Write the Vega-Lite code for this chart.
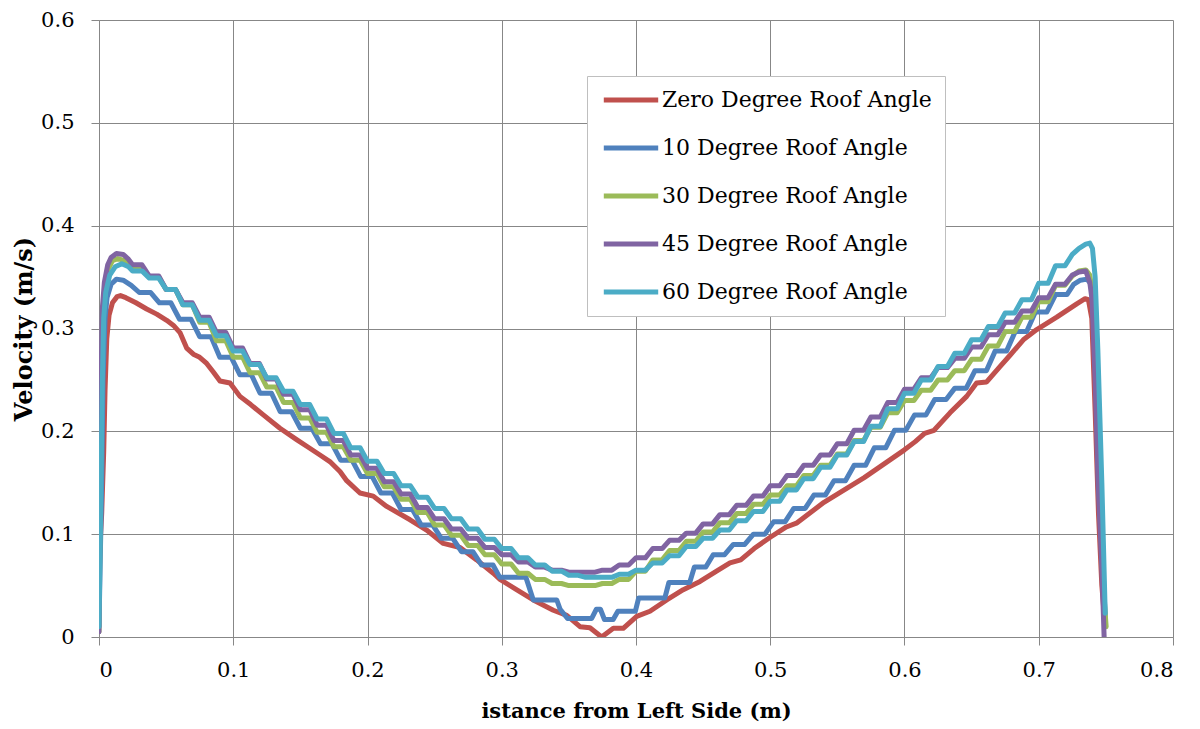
{
  "$schema": "https://vega.github.io/schema/vega-lite/v6.json",
  "autosize": {"type": "none"},
  "width": 1074,
  "height": 617,
  "padding": {"left": 99, "top": 20, "right": 27, "bottom": 92},
  "background": "white",
  "config": {
    "view": {"stroke": null},
    "axis": {
      "domainColor": "#878787", "gridColor": "#878787", "tickColor": "#878787",
      "gridWidth": 1, "domainWidth": 1, "tickWidth": 1, "tickSize": 8,
      "labelFont": "DejaVu Serif", "labelFontSize": 21, "labelColor": "black",
      "titleFont": "DejaVu Serif", "titleFontWeight": "bold", "titleColor": "black"
    },
    "legend": {
      "labelFont": "DejaVu Serif", "labelFontSize": 22, "labelColor": "black", "labelLimit": 500
    }
  },
  "data": {"values": [
    {"angle":"Zero","x":0,"y":0.07},{"angle":"Zero","x":0.002,"y":0.12},{"angle":"Zero","x":0.0035,"y":0.18},{"angle":"Zero","x":0.0045,"y":0.24},{"angle":"Zero","x":0.0058,"y":0.29},{"angle":"Zero","x":0.0075,"y":0.313},{"angle":"Zero","x":0.01,"y":0.325},{"angle":"Zero","x":0.0135,"y":0.331},{"angle":"Zero","x":0.016,"y":0.332},{"angle":"Zero","x":0.02,"y":0.33},{"angle":"Zero","x":0.0275,"y":0.325},{"angle":"Zero","x":0.0355,"y":0.319},{"angle":"Zero","x":0.043,"y":0.314},{"angle":"Zero","x":0.0504,"y":0.308},{"angle":"Zero","x":0.0555,"y":0.303},{"angle":"Zero","x":0.0603,"y":0.296},{"angle":"Zero","x":0.0653,"y":0.281},{"angle":"Zero","x":0.0703,"y":0.275},{"angle":"Zero","x":0.075,"y":0.272},{"angle":"Zero","x":0.0802,"y":0.266},{"angle":"Zero","x":0.085,"y":0.258},{"angle":"Zero","x":0.0901,"y":0.249},{"angle":"Zero","x":0.0976,"y":0.247},{"angle":"Zero","x":0.105,"y":0.234},{"angle":"Zero","x":0.113,"y":0.226},{"angle":"Zero","x":0.1224,"y":0.216},{"angle":"Zero","x":0.1348,"y":0.203},{"angle":"Zero","x":0.1472,"y":0.192},{"angle":"Zero","x":0.1553,"y":0.185},{"angle":"Zero","x":0.1646,"y":0.177},{"angle":"Zero","x":0.1725,"y":0.17},{"angle":"Zero","x":0.1795,"y":0.161},{"angle":"Zero","x":0.1845,"y":0.152},{"angle":"Zero","x":0.1944,"y":0.14},{"angle":"Zero","x":0.2043,"y":0.137},{"angle":"Zero","x":0.2143,"y":0.127},{"angle":"Zero","x":0.2317,"y":0.114},{"angle":"Zero","x":0.244,"y":0.104},{"angle":"Zero","x":0.2565,"y":0.091},{"angle":"Zero","x":0.2689,"y":0.087},{"angle":"Zero","x":0.2813,"y":0.075},{"angle":"Zero","x":0.2937,"y":0.062},{"angle":"Zero","x":0.2987,"y":0.056},{"angle":"Zero","x":0.311,"y":0.046},{"angle":"Zero","x":0.3235,"y":0.036},{"angle":"Zero","x":0.3384,"y":0.026},{"angle":"Zero","x":0.3484,"y":0.021},{"angle":"Zero","x":0.3583,"y":0.01},{"angle":"Zero","x":0.3657,"y":0.009},{"angle":"Zero","x":0.3744,"y":0.0},{"angle":"Zero","x":0.3831,"y":0.0085},{"angle":"Zero","x":0.3905,"y":0.0085},{"angle":"Zero","x":0.4005,"y":0.02},{"angle":"Zero","x":0.4104,"y":0.025},{"angle":"Zero","x":0.4229,"y":0.036},{"angle":"Zero","x":0.4352,"y":0.046},{"angle":"Zero","x":0.4477,"y":0.054},{"angle":"Zero","x":0.46,"y":0.064},{"angle":"Zero","x":0.47,"y":0.072},{"angle":"Zero","x":0.478,"y":0.075},{"angle":"Zero","x":0.488,"y":0.086},{"angle":"Zero","x":0.5,"y":0.097},{"angle":"Zero","x":0.512,"y":0.107},{"angle":"Zero","x":0.52,"y":0.111},{"angle":"Zero","x":0.53,"y":0.121},{"angle":"Zero","x":0.54,"y":0.131},{"angle":"Zero","x":0.55,"y":0.139},{"angle":"Zero","x":0.56,"y":0.147},{"angle":"Zero","x":0.57,"y":0.155},{"angle":"Zero","x":0.58,"y":0.164},{"angle":"Zero","x":0.59,"y":0.173},{"angle":"Zero","x":0.6,"y":0.182},{"angle":"Zero","x":0.608,"y":0.19},{"angle":"Zero","x":0.615,"y":0.198},{"angle":"Zero","x":0.622,"y":0.201},{"angle":"Zero","x":0.6339,"y":0.218},{"angle":"Zero","x":0.6463,"y":0.234},{"angle":"Zero","x":0.6537,"y":0.247},{"angle":"Zero","x":0.6612,"y":0.248},{"angle":"Zero","x":0.6711,"y":0.263},{"angle":"Zero","x":0.6786,"y":0.274},{"angle":"Zero","x":0.6885,"y":0.289},{"angle":"Zero","x":0.6985,"y":0.299},{"angle":"Zero","x":0.7134,"y":0.311},{"angle":"Zero","x":0.7283,"y":0.324},{"angle":"Zero","x":0.7345,"y":0.329},{"angle":"Zero","x":0.737,"y":0.328},{"angle":"Zero","x":0.7395,"y":0.31},{"angle":"Zero","x":0.742,"y":0.22},{"angle":"Zero","x":0.7445,"y":0.12},{"angle":"Zero","x":0.747,"y":0.05},{"angle":"Zero","x":0.7495,"y":0.01},

    {"angle":"10","x":0,"y":0.01},{"angle":"10","x":0.002,"y":0.15},{"angle":"10","x":0.003,"y":0.25},{"angle":"10","x":0.0045,"y":0.31},{"angle":"10","x":0.006,"y":0.33},{"angle":"10","x":0.009,"y":0.343},{"angle":"10","x":0.013,"y":0.348},{"angle":"10","x":0.018,"y":0.347},{"angle":"10","x":0.024,"y":0.342},
    {"angle":"10","x":0.03,"y":0.335},{"angle":"10","x":0.0385,"y":0.335},{"angle":"10","x":0.045,"y":0.325},{"angle":"10","x":0.0535,"y":0.325},{"angle":"10","x":0.06,"y":0.309},{"angle":"10","x":0.0685,"y":0.309},{"angle":"10","x":0.075,"y":0.292},{"angle":"10","x":0.0835,"y":0.292},{"angle":"10","x":0.09,"y":0.272},{"angle":"10","x":0.0985,"y":0.272},{"angle":"10","x":0.105,"y":0.255},{"angle":"10","x":0.1135,"y":0.255},{"angle":"10","x":0.12,"y":0.237},{"angle":"10","x":0.1285,"y":0.237},{"angle":"10","x":0.135,"y":0.219},{"angle":"10","x":0.1435,"y":0.219},{"angle":"10","x":0.15,"y":0.203},{"angle":"10","x":0.1585,"y":0.203},{"angle":"10","x":0.165,"y":0.188},{"angle":"10","x":0.1735,"y":0.188},{"angle":"10","x":0.18,"y":0.172},{"angle":"10","x":0.1885,"y":0.172},{"angle":"10","x":0.195,"y":0.156},{"angle":"10","x":0.2035,"y":0.156},{"angle":"10","x":0.21,"y":0.14},{"angle":"10","x":0.2185,"y":0.14},{"angle":"10","x":0.225,"y":0.124},{"angle":"10","x":0.2335,"y":0.124},{"angle":"10","x":0.24,"y":0.109},{"angle":"10","x":0.2485,"y":0.109},{"angle":"10","x":0.255,"y":0.096},{"angle":"10","x":0.2635,"y":0.096},{"angle":"10","x":0.27,"y":0.083},{"angle":"10","x":0.2785,"y":0.083},{"angle":"10","x":0.285,"y":0.07},{"angle":"10","x":0.2935,"y":0.07},
    {"angle":"10","x":0.2985,"y":0.058},{"angle":"10","x":0.318,"y":0.058},{"angle":"10","x":0.3235,"y":0.036},{"angle":"10","x":0.341,"y":0.036},{"angle":"10","x":0.3435,"y":0.027},{"angle":"10","x":0.349,"y":0.018},{"angle":"10","x":0.367,"y":0.018},{"angle":"10","x":0.3705,"y":0.027},{"angle":"10","x":0.3735,"y":0.027},{"angle":"10","x":0.3765,"y":0.017},{"angle":"10","x":0.383,"y":0.017},{"angle":"10","x":0.3865,"y":0.025},{"angle":"10","x":0.3995,"y":0.025},{"angle":"10","x":0.402,"y":0.038},{"angle":"10","x":0.4215,"y":0.038},{"angle":"10","x":0.4245,"y":0.053},{"angle":"10","x":0.44,"y":0.053},{"angle":"10","x":0.4435,"y":0.068},{"angle":"10","x":0.452,"y":0.068},
    {"angle":"10","x":0.4575,"y":0.08},{"angle":"10","x":0.466,"y":0.08},{"angle":"10","x":0.4725,"y":0.09},{"angle":"10","x":0.481,"y":0.09},{"angle":"10","x":0.4875,"y":0.1},{"angle":"10","x":0.496,"y":0.1},{"angle":"10","x":0.5025,"y":0.112},{"angle":"10","x":0.511,"y":0.112},{"angle":"10","x":0.5175,"y":0.125},{"angle":"10","x":0.526,"y":0.125},{"angle":"10","x":0.5325,"y":0.138},{"angle":"10","x":0.541,"y":0.138},{"angle":"10","x":0.5475,"y":0.152},{"angle":"10","x":0.556,"y":0.152},{"angle":"10","x":0.5625,"y":0.167},{"angle":"10","x":0.571,"y":0.167},{"angle":"10","x":0.5775,"y":0.184},{"angle":"10","x":0.586,"y":0.184},{"angle":"10","x":0.5925,"y":0.201},{"angle":"10","x":0.601,"y":0.201},{"angle":"10","x":0.6075,"y":0.216},{"angle":"10","x":0.616,"y":0.216},{"angle":"10","x":0.6225,"y":0.231},{"angle":"10","x":0.631,"y":0.231},{"angle":"10","x":0.6375,"y":0.242},{"angle":"10","x":0.646,"y":0.242},{"angle":"10","x":0.6525,"y":0.259},{"angle":"10","x":0.661,"y":0.259},{"angle":"10","x":0.6675,"y":0.278},{"angle":"10","x":0.676,"y":0.278},{"angle":"10","x":0.6825,"y":0.297},{"angle":"10","x":0.691,"y":0.297},{"angle":"10","x":0.6975,"y":0.316},{"angle":"10","x":0.706,"y":0.316},{"angle":"10","x":0.7125,"y":0.333},{"angle":"10","x":0.721,"y":0.333},
    {"angle":"10","x":0.726,"y":0.343},{"angle":"10","x":0.731,"y":0.347},{"angle":"10","x":0.736,"y":0.348},{"angle":"10","x":0.739,"y":0.343},{"angle":"10","x":0.7415,"y":0.3},{"angle":"10","x":0.744,"y":0.2},{"angle":"10","x":0.747,"y":0.09},{"angle":"10","x":0.7495,"y":0.02},

    {"angle":"30","x":0,"y":0.005},{"angle":"30","x":0.001,"y":0.15},{"angle":"30","x":0.002,"y":0.25},{"angle":"30","x":0.003,"y":0.315},{"angle":"30","x":0.0045,"y":0.34},{"angle":"30","x":0.007,"y":0.358},{"angle":"30","x":0.01,"y":0.366},{"angle":"30","x":0.014,"y":0.368},{"angle":"30","x":0.019,"y":0.366},{"angle":"30","x":0.022,"y":0.363},
    {"angle":"30","x":0.025,"y":0.359},{"angle":"30","x":0.032,"y":0.359},{"angle":"30","x":0.0375,"y":0.35},{"angle":"30","x":0.0445,"y":0.35},{"angle":"30","x":0.05,"y":0.338},{"angle":"30","x":0.057,"y":0.338},{"angle":"30","x":0.0625,"y":0.323},{"angle":"30","x":0.0695,"y":0.323},{"angle":"30","x":0.075,"y":0.306},{"angle":"30","x":0.082,"y":0.306},{"angle":"30","x":0.0875,"y":0.288},{"angle":"30","x":0.0945,"y":0.288},{"angle":"30","x":0.1,"y":0.272},{"angle":"30","x":0.107,"y":0.272},{"angle":"30","x":0.1125,"y":0.257},{"angle":"30","x":0.1195,"y":0.257},{"angle":"30","x":0.125,"y":0.243},{"angle":"30","x":0.132,"y":0.243},{"angle":"30","x":0.1375,"y":0.228},{"angle":"30","x":0.1445,"y":0.228},{"angle":"30","x":0.15,"y":0.213},{"angle":"30","x":0.157,"y":0.213},{"angle":"30","x":0.1625,"y":0.199},{"angle":"30","x":0.1695,"y":0.199},{"angle":"30","x":0.175,"y":0.185},{"angle":"30","x":0.182,"y":0.185},{"angle":"30","x":0.1875,"y":0.172},{"angle":"30","x":0.1945,"y":0.172},{"angle":"30","x":0.2,"y":0.159},{"angle":"30","x":0.207,"y":0.159},{"angle":"30","x":0.2125,"y":0.146},{"angle":"30","x":0.2195,"y":0.146},{"angle":"30","x":0.225,"y":0.134},{"angle":"30","x":0.232,"y":0.134},{"angle":"30","x":0.2375,"y":0.121},{"angle":"30","x":0.2445,"y":0.121},{"angle":"30","x":0.25,"y":0.109},{"angle":"30","x":0.257,"y":0.109},{"angle":"30","x":0.2625,"y":0.099},{"angle":"30","x":0.2695,"y":0.099},{"angle":"30","x":0.275,"y":0.089},{"angle":"30","x":0.282,"y":0.089},{"angle":"30","x":0.2875,"y":0.08},{"angle":"30","x":0.2945,"y":0.08},{"angle":"30","x":0.3,"y":0.071},{"angle":"30","x":0.307,"y":0.071},{"angle":"30","x":0.3125,"y":0.062},{"angle":"30","x":0.3195,"y":0.062},{"angle":"30","x":0.325,"y":0.056},{"angle":"30","x":0.332,"y":0.056},{"angle":"30","x":0.3375,"y":0.052},{"angle":"30","x":0.3445,"y":0.052},{"angle":"30","x":0.35,"y":0.05},{"angle":"30","x":0.357,"y":0.05},{"angle":"30","x":0.3625,"y":0.05},{"angle":"30","x":0.3695,"y":0.05},{"angle":"30","x":0.375,"y":0.052},{"angle":"30","x":0.382,"y":0.052},{"angle":"30","x":0.3875,"y":0.056},{"angle":"30","x":0.3945,"y":0.056},{"angle":"30","x":0.4,"y":0.064},{"angle":"30","x":0.407,"y":0.064},{"angle":"30","x":0.4125,"y":0.075},{"angle":"30","x":0.4195,"y":0.075},{"angle":"30","x":0.425,"y":0.084},{"angle":"30","x":0.432,"y":0.084},{"angle":"30","x":0.4375,"y":0.093},{"angle":"30","x":0.4445,"y":0.093},{"angle":"30","x":0.45,"y":0.102},{"angle":"30","x":0.457,"y":0.102},{"angle":"30","x":0.4625,"y":0.111},{"angle":"30","x":0.4695,"y":0.111},{"angle":"30","x":0.475,"y":0.12},{"angle":"30","x":0.482,"y":0.12},{"angle":"30","x":0.4875,"y":0.129},{"angle":"30","x":0.4945,"y":0.129},{"angle":"30","x":0.5,"y":0.138},{"angle":"30","x":0.507,"y":0.138},{"angle":"30","x":0.5125,"y":0.147},{"angle":"30","x":0.5195,"y":0.147},{"angle":"30","x":0.525,"y":0.157},{"angle":"30","x":0.532,"y":0.157},{"angle":"30","x":0.5375,"y":0.167},{"angle":"30","x":0.5445,"y":0.167},{"angle":"30","x":0.55,"y":0.178},{"angle":"30","x":0.557,"y":0.178},{"angle":"30","x":0.5625,"y":0.191},{"angle":"30","x":0.5695,"y":0.191},{"angle":"30","x":0.575,"y":0.204},{"angle":"30","x":0.582,"y":0.204},{"angle":"30","x":0.5875,"y":0.218},{"angle":"30","x":0.5945,"y":0.218},{"angle":"30","x":0.6,"y":0.23},{"angle":"30","x":0.607,"y":0.23},{"angle":"30","x":0.6125,"y":0.24},{"angle":"30","x":0.6195,"y":0.24},{"angle":"30","x":0.625,"y":0.25},{"angle":"30","x":0.632,"y":0.25},{"angle":"30","x":0.6375,"y":0.259},{"angle":"30","x":0.6445,"y":0.259},{"angle":"30","x":0.65,"y":0.27},{"angle":"30","x":0.657,"y":0.27},{"angle":"30","x":0.6625,"y":0.283},{"angle":"30","x":0.6695,"y":0.283},{"angle":"30","x":0.675,"y":0.297},{"angle":"30","x":0.682,"y":0.297},{"angle":"30","x":0.6875,"y":0.311},{"angle":"30","x":0.6945,"y":0.311},{"angle":"30","x":0.7,"y":0.326},{"angle":"30","x":0.707,"y":0.326},{"angle":"30","x":0.7125,"y":0.342},{"angle":"30","x":0.7195,"y":0.342},
    {"angle":"30","x":0.725,"y":0.351},{"angle":"30","x":0.73,"y":0.356},{"angle":"30","x":0.735,"y":0.357},{"angle":"30","x":0.738,"y":0.352},{"angle":"30","x":0.7405,"y":0.33},{"angle":"30","x":0.7425,"y":0.25},{"angle":"30","x":0.745,"y":0.14},{"angle":"30","x":0.748,"y":0.05},{"angle":"30","x":0.7502,"y":0.01},

    {"angle":"45","x":0,"y":0.005},{"angle":"45","x":0.0008,"y":0.15},{"angle":"45","x":0.0015,"y":0.25},{"angle":"45","x":0.0025,"y":0.32},{"angle":"45","x":0.004,"y":0.345},{"angle":"45","x":0.0065,"y":0.362},{"angle":"45","x":0.009,"y":0.369},{"angle":"45","x":0.013,"y":0.373},{"angle":"45","x":0.018,"y":0.372},{"angle":"45","x":0.0215,"y":0.368},
    {"angle":"45","x":0.025,"y":0.362},{"angle":"45","x":0.032,"y":0.362},{"angle":"45","x":0.0375,"y":0.351},{"angle":"45","x":0.0445,"y":0.351},{"angle":"45","x":0.05,"y":0.338},{"angle":"45","x":0.057,"y":0.338},{"angle":"45","x":0.0625,"y":0.325},{"angle":"45","x":0.0695,"y":0.325},{"angle":"45","x":0.075,"y":0.311},{"angle":"45","x":0.082,"y":0.311},{"angle":"45","x":0.0875,"y":0.296},{"angle":"45","x":0.0945,"y":0.296},{"angle":"45","x":0.1,"y":0.281},{"angle":"45","x":0.107,"y":0.281},{"angle":"45","x":0.1125,"y":0.266},{"angle":"45","x":0.1195,"y":0.266},{"angle":"45","x":0.125,"y":0.251},{"angle":"45","x":0.132,"y":0.251},{"angle":"45","x":0.1375,"y":0.236},{"angle":"45","x":0.1445,"y":0.236},{"angle":"45","x":0.15,"y":0.221},{"angle":"45","x":0.157,"y":0.221},{"angle":"45","x":0.1625,"y":0.206},{"angle":"45","x":0.1695,"y":0.206},{"angle":"45","x":0.175,"y":0.191},{"angle":"45","x":0.182,"y":0.191},{"angle":"45","x":0.1875,"y":0.177},{"angle":"45","x":0.1945,"y":0.177},{"angle":"45","x":0.2,"y":0.164},{"angle":"45","x":0.207,"y":0.164},{"angle":"45","x":0.2125,"y":0.151},{"angle":"45","x":0.2195,"y":0.151},{"angle":"45","x":0.225,"y":0.139},{"angle":"45","x":0.232,"y":0.139},{"angle":"45","x":0.2375,"y":0.126},{"angle":"45","x":0.2445,"y":0.126},{"angle":"45","x":0.25,"y":0.115},{"angle":"45","x":0.257,"y":0.115},{"angle":"45","x":0.2625,"y":0.105},{"angle":"45","x":0.2695,"y":0.105},{"angle":"45","x":0.275,"y":0.096},{"angle":"45","x":0.282,"y":0.096},{"angle":"45","x":0.2875,"y":0.087},{"angle":"45","x":0.2945,"y":0.087},{"angle":"45","x":0.3,"y":0.08},{"angle":"45","x":0.307,"y":0.08},{"angle":"45","x":0.3125,"y":0.073},{"angle":"45","x":0.3195,"y":0.073},{"angle":"45","x":0.325,"y":0.068},{"angle":"45","x":0.332,"y":0.068},{"angle":"45","x":0.3375,"y":0.065},{"angle":"45","x":0.3445,"y":0.065},{"angle":"45","x":0.35,"y":0.063},{"angle":"45","x":0.357,"y":0.063},{"angle":"45","x":0.3625,"y":0.063},{"angle":"45","x":0.3695,"y":0.063},{"angle":"45","x":0.375,"y":0.065},{"angle":"45","x":0.382,"y":0.065},{"angle":"45","x":0.3875,"y":0.07},{"angle":"45","x":0.3945,"y":0.07},{"angle":"45","x":0.4,"y":0.077},{"angle":"45","x":0.407,"y":0.077},{"angle":"45","x":0.4125,"y":0.086},{"angle":"45","x":0.4195,"y":0.086},{"angle":"45","x":0.425,"y":0.094},{"angle":"45","x":0.432,"y":0.094},{"angle":"45","x":0.4375,"y":0.101},{"angle":"45","x":0.4445,"y":0.101},{"angle":"45","x":0.45,"y":0.11},{"angle":"45","x":0.457,"y":0.11},{"angle":"45","x":0.4625,"y":0.119},{"angle":"45","x":0.4695,"y":0.119},{"angle":"45","x":0.475,"y":0.128},{"angle":"45","x":0.482,"y":0.128},{"angle":"45","x":0.4875,"y":0.137},{"angle":"45","x":0.4945,"y":0.137},{"angle":"45","x":0.5,"y":0.147},{"angle":"45","x":0.507,"y":0.147},{"angle":"45","x":0.5125,"y":0.157},{"angle":"45","x":0.5195,"y":0.157},{"angle":"45","x":0.525,"y":0.167},{"angle":"45","x":0.532,"y":0.167},{"angle":"45","x":0.5375,"y":0.177},{"angle":"45","x":0.5445,"y":0.177},{"angle":"45","x":0.55,"y":0.188},{"angle":"45","x":0.557,"y":0.188},{"angle":"45","x":0.5625,"y":0.201},{"angle":"45","x":0.5695,"y":0.201},{"angle":"45","x":0.575,"y":0.214},{"angle":"45","x":0.582,"y":0.214},{"angle":"45","x":0.5875,"y":0.228},{"angle":"45","x":0.5945,"y":0.228},{"angle":"45","x":0.6,"y":0.241},{"angle":"45","x":0.607,"y":0.241},{"angle":"45","x":0.6125,"y":0.252},{"angle":"45","x":0.6195,"y":0.252},{"angle":"45","x":0.625,"y":0.262},{"angle":"45","x":0.632,"y":0.262},{"angle":"45","x":0.6375,"y":0.271},{"angle":"45","x":0.6445,"y":0.271},{"angle":"45","x":0.65,"y":0.282},{"angle":"45","x":0.657,"y":0.282},{"angle":"45","x":0.6625,"y":0.294},{"angle":"45","x":0.6695,"y":0.294},{"angle":"45","x":0.675,"y":0.306},{"angle":"45","x":0.682,"y":0.306},{"angle":"45","x":0.6875,"y":0.317},{"angle":"45","x":0.6945,"y":0.317},{"angle":"45","x":0.7,"y":0.33},{"angle":"45","x":0.707,"y":0.33},{"angle":"45","x":0.7125,"y":0.343},{"angle":"45","x":0.7195,"y":0.343},
    {"angle":"45","x":0.725,"y":0.352},{"angle":"45","x":0.73,"y":0.355},{"angle":"45","x":0.735,"y":0.356},{"angle":"45","x":0.738,"y":0.345},{"angle":"45","x":0.7397,"y":0.328},{"angle":"45","x":0.742,"y":0.25},{"angle":"45","x":0.7442,"y":0.15},{"angle":"45","x":0.747,"y":0.068},{"angle":"45","x":0.7487,"y":0.0},

    {"angle":"60","x":0,"y":0.01},{"angle":"60","x":0.0015,"y":0.15},{"angle":"60","x":0.0025,"y":0.25},{"angle":"60","x":0.0035,"y":0.31},{"angle":"60","x":0.005,"y":0.335},{"angle":"60","x":0.008,"y":0.352},{"angle":"60","x":0.012,"y":0.36},{"angle":"60","x":0.017,"y":0.363},{"angle":"60","x":0.022,"y":0.36},
    {"angle":"60","x":0.025,"y":0.356},{"angle":"60","x":0.032,"y":0.356},{"angle":"60","x":0.0375,"y":0.349},{"angle":"60","x":0.0445,"y":0.349},{"angle":"60","x":0.05,"y":0.338},{"angle":"60","x":0.057,"y":0.338},{"angle":"60","x":0.0625,"y":0.323},{"angle":"60","x":0.0695,"y":0.323},{"angle":"60","x":0.075,"y":0.308},{"angle":"60","x":0.082,"y":0.308},{"angle":"60","x":0.0875,"y":0.293},{"angle":"60","x":0.0945,"y":0.293},{"angle":"60","x":0.1,"y":0.278},{"angle":"60","x":0.107,"y":0.278},{"angle":"60","x":0.1125,"y":0.265},{"angle":"60","x":0.1195,"y":0.265},{"angle":"60","x":0.125,"y":0.252},{"angle":"60","x":0.132,"y":0.252},{"angle":"60","x":0.1375,"y":0.239},{"angle":"60","x":0.1445,"y":0.239},{"angle":"60","x":0.15,"y":0.226},{"angle":"60","x":0.157,"y":0.226},{"angle":"60","x":0.1625,"y":0.212},{"angle":"60","x":0.1695,"y":0.212},{"angle":"60","x":0.175,"y":0.198},{"angle":"60","x":0.182,"y":0.198},{"angle":"60","x":0.1875,"y":0.184},{"angle":"60","x":0.1945,"y":0.184},{"angle":"60","x":0.2,"y":0.171},{"angle":"60","x":0.207,"y":0.171},{"angle":"60","x":0.2125,"y":0.159},{"angle":"60","x":0.2195,"y":0.159},{"angle":"60","x":0.225,"y":0.147},{"angle":"60","x":0.232,"y":0.147},{"angle":"60","x":0.2375,"y":0.136},{"angle":"60","x":0.2445,"y":0.136},{"angle":"60","x":0.25,"y":0.125},{"angle":"60","x":0.257,"y":0.125},{"angle":"60","x":0.2625,"y":0.115},{"angle":"60","x":0.2695,"y":0.115},{"angle":"60","x":0.275,"y":0.105},{"angle":"60","x":0.282,"y":0.105},{"angle":"60","x":0.2875,"y":0.095},{"angle":"60","x":0.2945,"y":0.095},{"angle":"60","x":0.3,"y":0.086},{"angle":"60","x":0.307,"y":0.086},{"angle":"60","x":0.3125,"y":0.077},{"angle":"60","x":0.3195,"y":0.077},{"angle":"60","x":0.325,"y":0.07},{"angle":"60","x":0.332,"y":0.07},{"angle":"60","x":0.3375,"y":0.064},{"angle":"60","x":0.3445,"y":0.064},{"angle":"60","x":0.35,"y":0.06},{"angle":"60","x":0.357,"y":0.06},{"angle":"60","x":0.3625,"y":0.058},{"angle":"60","x":0.3695,"y":0.058},{"angle":"60","x":0.375,"y":0.058},{"angle":"60","x":0.382,"y":0.058},{"angle":"60","x":0.3875,"y":0.061},{"angle":"60","x":0.3945,"y":0.061},{"angle":"60","x":0.4,"y":0.065},{"angle":"60","x":0.407,"y":0.065},{"angle":"60","x":0.4125,"y":0.072},{"angle":"60","x":0.4195,"y":0.072},{"angle":"60","x":0.425,"y":0.079},{"angle":"60","x":0.432,"y":0.079},{"angle":"60","x":0.4375,"y":0.088},{"angle":"60","x":0.4445,"y":0.088},{"angle":"60","x":0.45,"y":0.096},{"angle":"60","x":0.457,"y":0.096},{"angle":"60","x":0.4625,"y":0.104},{"angle":"60","x":0.4695,"y":0.104},{"angle":"60","x":0.475,"y":0.113},{"angle":"60","x":0.482,"y":0.113},{"angle":"60","x":0.4875,"y":0.122},{"angle":"60","x":0.4945,"y":0.122},{"angle":"60","x":0.5,"y":0.132},{"angle":"60","x":0.507,"y":0.132},{"angle":"60","x":0.5125,"y":0.143},{"angle":"60","x":0.5195,"y":0.143},{"angle":"60","x":0.525,"y":0.154},{"angle":"60","x":0.532,"y":0.154},{"angle":"60","x":0.5375,"y":0.165},{"angle":"60","x":0.5445,"y":0.165},{"angle":"60","x":0.55,"y":0.177},{"angle":"60","x":0.557,"y":0.177},{"angle":"60","x":0.5625,"y":0.19},{"angle":"60","x":0.5695,"y":0.19},{"angle":"60","x":0.575,"y":0.205},{"angle":"60","x":0.582,"y":0.205},{"angle":"60","x":0.5875,"y":0.222},{"angle":"60","x":0.5945,"y":0.222},{"angle":"60","x":0.6,"y":0.237},{"angle":"60","x":0.607,"y":0.237},{"angle":"60","x":0.6125,"y":0.25},{"angle":"60","x":0.6195,"y":0.25},{"angle":"60","x":0.625,"y":0.263},{"angle":"60","x":0.632,"y":0.263},{"angle":"60","x":0.6375,"y":0.276},{"angle":"60","x":0.6445,"y":0.276},{"angle":"60","x":0.65,"y":0.289},{"angle":"60","x":0.657,"y":0.289},{"angle":"60","x":0.6625,"y":0.302},{"angle":"60","x":0.6695,"y":0.302},{"angle":"60","x":0.675,"y":0.315},{"angle":"60","x":0.682,"y":0.315},{"angle":"60","x":0.6875,"y":0.328},{"angle":"60","x":0.6945,"y":0.328},{"angle":"60","x":0.7,"y":0.344},{"angle":"60","x":0.707,"y":0.344},{"angle":"60","x":0.7125,"y":0.361},{"angle":"60","x":0.7195,"y":0.361},
    {"angle":"60","x":0.725,"y":0.372},{"angle":"60","x":0.73,"y":0.378},{"angle":"60","x":0.735,"y":0.382},{"angle":"60","x":0.738,"y":0.383},{"angle":"60","x":0.74,"y":0.378},{"angle":"60","x":0.742,"y":0.35},{"angle":"60","x":0.744,"y":0.28},{"angle":"60","x":0.747,"y":0.15},{"angle":"60","x":0.7495,"y":0.023}
  ]},
  "mark": {"type": "line", "strokeWidth": 5, "strokeJoin": "round", "strokeCap": "round", "clip": true},
  "encoding": {
    "x": {
      "field": "x", "type": "quantitative",
      "scale": {"domain": [0, 0.8], "nice": false},
      "axis": {
        "values": [0, 0.1, 0.2, 0.3, 0.4, 0.5, 0.6, 0.7, 0.8], "format": ".1~f",
        "labelPadding": 14, "title": "istance from Left Side (m)",
        "titleFontSize": 21, "titlePadding": 20
      }
    },
    "y": {
      "field": "y", "type": "quantitative",
      "scale": {"domain": [0, 0.6], "nice": false},
      "axis": {
        "values": [0, 0.1, 0.2, 0.3, 0.4, 0.5, 0.6], "format": ".1~f",
        "labelPadding": 17, "title": "Velocity (m/s)",
        "titleFontSize": 24, "titlePadding": 4
      }
    },
    "color": {
      "field": "angle", "type": "nominal",
      "scale": {
        "domain": ["Zero", "10", "30", "45", "60"],
        "range": ["#C0504D", "#4F81BD", "#9BBB59", "#8064A2", "#4BACC6"]
      },
      "legend": {
        "title": null, "orient": "none", "legendX": 488, "legendY": 56,
        "direction": "vertical",
        "labelExpr": "datum.label + ' Degree Roof Angle'",
        "symbolType": "M-3.2,0H3.2", "symbolSize": 289, "symbolStrokeWidth": 5,
        "symbolOffset": 20, "labelOffset": 20, "rowPadding": 26, "padding": 13,
        "strokeColor": "#BFBFBF", "fillColor": "white"
      }
    }
  }
}
